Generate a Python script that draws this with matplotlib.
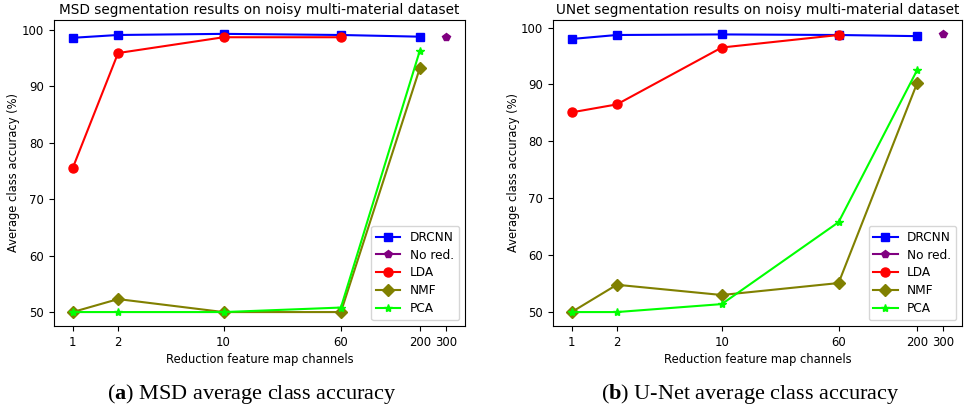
import matplotlib
matplotlib.use("Agg")
import matplotlib.pyplot as plt
from matplotlib.ticker import FixedLocator, FixedFormatter, NullLocator

plt.rcParams['mathtext.fontset'] = 'custom'
plt.rcParams['mathtext.rm'] = 'Liberation Serif'
plt.rcParams['mathtext.bf'] = 'Liberation Serif:bold'

channels = [1, 2, 10, 60, 200]
nored_x = [300]
xticks = [1, 2, 10, 60, 200, 300]
xticklabels = ['1', '2', '10', '60', '200', '300']

# MSD panel
msd_drcnn = [98.6, 99.1, 99.3, 99.1, 98.8]
msd_nored = [98.8]
msd_lda = [75.5, 95.9, 98.7, 98.7]
msd_nmf = [50.0, 52.3, 50.0, 50.0, 93.2]
msd_pca = [50.0, 50.0, 50.0, 50.8, 96.3]

# UNet panel
unet_drcnn = [98.0, 98.7, 98.8, 98.7, 98.5]
unet_nored = [98.9]
unet_lda = [85.1, 86.5, 96.5, 98.7]
unet_nmf = [50.0, 54.8, 53.0, 55.1, 90.2]
unet_pca = [50.0, 50.0, 51.4, 65.8, 92.5]

titles = ['MSD segmentation results on noisy multi-material dataset',
          'UNet segmentation results on noisy multi-material dataset']
captions = [r'($\mathbf{a}$) MSD average class accuracy',
            r'($\mathbf{b}$) U-Net average class accuracy']

fig = plt.figure(figsize=(9.64, 4.13), dpi=100)
axes = [fig.add_axes([0.056, 0.2107, 0.4264, 0.741]),
        fig.add_axes([0.5737, 0.2107, 0.4243, 0.741])]

data = [(msd_drcnn, msd_nored, msd_lda, msd_nmf, msd_pca),
        (unet_drcnn, unet_nored, unet_lda, unet_nmf, unet_pca)]

for ax, (drcnn, nored, lda, nmf, pca), title, cap in zip(axes, data, titles, captions):
    ax.plot(channels, drcnn, marker='s', color='blue', lw=1.5, ms=6, label='DRCNN')
    ax.plot(nored_x, nored, marker='p', color='purple', lw=1.5, ms=6, label='No red.')
    ax.plot(channels[:len(lda)], lda, marker='o', color='red', lw=1.5, ms=6.5, label='LDA')
    ax.plot(channels, nmf, marker='D', color='olive', lw=1.5, ms=6.5, label='NMF')
    ax.plot(channels, pca, marker='*', color='lime', lw=1.5, ms=6, label='PCA')
    ax.set_xscale('log')
    ax.xaxis.set_major_locator(FixedLocator(xticks))
    ax.xaxis.set_major_formatter(FixedFormatter(xticklabels))
    ax.xaxis.set_minor_locator(NullLocator())
    ax.set_yticks([50, 60, 70, 80, 90, 100])
    ax.tick_params(labelsize=8.4)
    ax.set_title(title, fontsize=9.8, pad=4)
    ax.set_xlabel('Reduction feature map channels', fontsize=8.3, labelpad=3)
    ax.set_ylabel('Average class accuracy (%)', fontsize=8.3)
    ax.yaxis.set_label_coords(-0.082, 0.5)
    ax.legend(loc='lower right', fontsize=8.7, handlelength=2.0, labelspacing=0.4)
    pos = ax.get_position()
    fig.text(pos.x0 + pos.width / 2 - 0.008, 0.045, cap, ha='center', va='center',
             fontsize=16, family='Liberation Serif')

fig.savefig('out.png', dpi=100)
